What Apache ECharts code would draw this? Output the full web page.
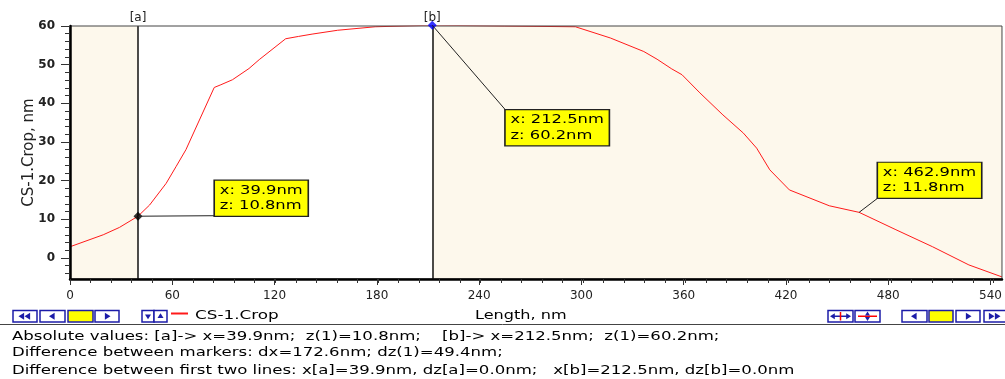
<!DOCTYPE html>
<html><head><meta charset="utf-8">
<script src="https://cdn.jsdelivr.net/npm/echarts@6/dist/echarts.min.js"></script>
<style>html,body{margin:0;padding:0;background:#fff}#c{width:1005px;height:379px}</style>
</head><body><div id="c"></div>
<script>
// ---- data ----
const lengthNm = [0, 19.5, 29, 39.9, 46.7, 56.4, 62.3, 68, 84.6, 88.5, 95.3, 105, 111, 126.5, 134, 142, 157, 179, 212.5, 255, 296.5, 317, 336.6, 344.4, 353, 359, 369.5, 383, 395, 402.8, 410.5, 422, 445.4, 462.9, 484.5, 506, 527.3, 546.7];
const heightNm = [2.9, 6.0, 7.9, 10.8, 13.7, 19.3, 23.7, 28.0, 44.1, 44.8, 46.1, 49.0, 51.3, 56.7, 57.3, 57.9, 58.9, 59.8, 60.2, 60.0, 59.8, 56.9, 53.4, 51.4, 48.9, 47.4, 42.7, 37.0, 32.3, 28.4, 22.8, 17.6, 13.5, 11.8, 7.3, 2.9, -1.8, -4.9];
const xTickValues = [0, 60, 120, 180, 240, 300, 360, 420, 480, 540];
const yTickValues = [0, 10, 20, 30, 40, 50, 60];
const xMinorStep = 12;
const yMinorStep = 2;
const xRange = [0, 546.7];
const yRange = [-5.44, 60];
const markerNames = ['[a]', '[b]'];
const markerX = [39.9, 212.5];
const markerZ = [10.8, 60.2];
const annotX = [39.9, 212.5, 462.9];
const annotZ = [10.8, 60.2, 11.8];
const seriesName = 'CS-1.Crop';
const xAxisName = 'Length, nm';
const yAxisName = 'CS-1.Crop, nm';
const infoLines = [
  'Absolute values: [a]-> x=39.9nm;  z(1)=10.8nm;    [b]-> x=212.5nm;  z(1)=60.2nm;',
  'Difference between markers: dx=172.6nm; dz(1)=49.4nm;',
  'Difference between first two lines: x[a]=39.9nm, dz[a]=0.0nm;   x[b]=212.5nm, dz[b]=0.0nm'
];

// ---- styles ----
const FONT = 'DejaVu Sans';
const SX = 1.38;
const markerColors = ['#000000', '#0000ff'];
const annotOffsets = [[77, -35.5, 'bl'], [73.5, 85, 'tl'], [19, -49.5, 'bl']];

const xMinor = []; for (let v = 0; v <= xRange[1]; v += xMinorStep) xMinor.push(v);
const yMinor = []; for (let v = -4; v <= yRange[1]; v += yMinorStep) yMinor.push(v);

const chart = echarts.init(document.getElementById('c'), null, {renderer: 'canvas'});
const gridPos = {left: 70, right: -2, top: 26, bottom: 100};

const option = {
  animation: false,
  grid: [
    Object.assign({show: true, z: 10, borderColor: '#444', borderWidth: 1, backgroundColor: 'transparent'}, gridPos),
    Object.assign({show: false}, gridPos)
  ],
  xAxis: [
    {type: 'value', gridIndex: 0, z: 12, min: xRange[0], max: xRange[1], position: 'bottom',
     axisLine: {show: true, onZero: false, lineStyle: {color: '#000', width: 2.5}},
     axisTick: {show: true, customValues: xTickValues, length: 6, lineStyle: {color: '#333'}},
     axisLabel: {customValues: xTickValues, fontFamily: FONT, fontSize: 12, color: '#222', margin: 11},
     splitLine: {show: false}},
    {type: 'value', gridIndex: 1, z: 12, min: xRange[0], max: xRange[1], position: 'bottom',
     axisLine: {show: false, onZero: false},
     axisTick: {show: true, customValues: xMinor, length: 4, lineStyle: {color: '#333'}},
     axisLabel: {show: false}, splitLine: {show: false}}
  ],
  yAxis: [
    {type: 'value', gridIndex: 0, z: 12, min: yRange[0], max: yRange[1], position: 'left',
     axisLine: {show: true, onZero: false, lineStyle: {color: '#000', width: 2.5}},
     axisTick: {show: true, customValues: yTickValues, length: 9, lineStyle: {color: '#333'}},
     axisLabel: {customValues: yTickValues, fontFamily: FONT, fontSize: 12, fontWeight: 'bold', color: '#222', margin: 15},
     splitLine: {show: false},
     name: yAxisName, nameLocation: 'middle', nameGap: 33, nameRotate: 90, nameMoveOverlap: false,
     nameTextStyle: {fontFamily: FONT, fontSize: 15, color: '#222'}},
    {type: 'value', gridIndex: 1, z: 12, min: yRange[0], max: yRange[1], position: 'left',
     axisLine: {show: false, onZero: false},
     axisTick: {show: true, customValues: yMinor, length: 5, lineStyle: {color: '#333'}},
     axisLabel: {show: false}, splitLine: {show: false}}
  ],
  series: [
    {type: 'line', xAxisIndex: 0, yAxisIndex: 0, data: [], z: 1, silent: true,
     markArea: {silent: true, itemStyle: {color: '#fdf8ec'},
       data: [[{xAxis: xRange[0]}, {xAxis: markerX[0]}], [{xAxis: markerX[1]}, {xAxis: xRange[1]}]]}},
    {type: 'line', xAxisIndex: 0, yAxisIndex: 0, data: [], z: 4, silent: true,
     markLine: {silent: true, symbol: 'none', animation: false,
       lineStyle: {color: '#111', width: 1.5, type: 'solid'},
       label: {show: true, position: 'end', formatter: '{b}', fontFamily: FONT, fontSize: 12, color: '#222', distance: 2},
       data: markerX.map((x, i) => ({xAxis: x, name: markerNames[i]}))}},
    {type: 'line', name: seriesName, xAxisIndex: 0, yAxisIndex: 0, z: 3,
     data: lengthNm.map((x, i) => [x, heightNm[i]]),
     symbol: 'none', lineStyle: {color: '#ff1a1a', width: 1}, silent: true},
    {type: 'scatter', xAxisIndex: 0, yAxisIndex: 0, z: 14, clip: false, silent: true,
     symbol: 'diamond', symbolSize: 9,
     data: markerX.map((x, i) => ({value: [x, markerZ[i]], itemStyle: {color: markerColors[i]}}))}
  ]
};
chart.setOption(option);

// ---- graphics: annotations, info text, toolbar ----
const g = [];
function stext(x, y, text, opts) {
  opts = opts || {};
  g.push({type: 'text', x: x, y: y, scaleX: opts.sx || SX, z: 20,
    style: Object.assign({text: text, fontFamily: FONT, fontSize: 12, fill: '#000',
      textAlign: 'left', textVerticalAlign: 'middle'}, opts.style || {})});
}
// annotations
const boxH = 35;
annotX.forEach((x, i) => {
  const p = chart.convertToPixel({gridIndex: 0}, [x, annotZ[i]]);
  const off = annotOffsets[i];
  const bx = p[0] + off[0], by = p[1] + off[1];
  const ax = bx, ay = off[2] === 'bl' ? by + boxH : by;
  g.push({type: 'line', z: 15, shape: {x1: p[0], y1: p[1], x2: ax, y2: ay}, style: {stroke: '#222', lineWidth: 1}});
  g.push({type: 'text', x: bx, y: by, scaleX: 1.36, z: 20,
    style: {text: 'x: ' + x.toFixed(1) + 'nm\nz: ' + annotZ[i].toFixed(1) + 'nm',
      fontFamily: FONT, fontSize: 12, fill: '#000', lineHeight: 15.5,
      backgroundColor: '#ffff00', borderColor: '#222', borderWidth: 1.2, padding: [2, 3.5, 2, 3.5],
      textAlign: 'left', textVerticalAlign: 'top'}});
});
// info lines
const infoY = [336.7, 353.3, 370.5];
infoLines.forEach((t, i) => stext(12, infoY[i], t));
// separator
g.push({type: 'line', shape: {x1: 0, y1: 324.5, x2: 1005, y2: 324.5}, style: {stroke: '#444', lineWidth: 1}});
// legend & axis name
g.push({type: 'line', shape: {x1: 171, y1: 313.5, x2: 188, y2: 313.5}, style: {stroke: '#ff1a1a', lineWidth: 2}});
stext(195, 316, seriesName, {sx: 1.4});
stext(475, 315.5, xAxisName, {sx: 1.34});

// toolbar buttons
const NAVY = '#1c1ca8';
const BY = 310.5, BH = 11.5;
function btn(x0, x1, fill) {
  g.push({type: 'rect', shape: {x: x0, y: BY, width: x1 - x0, height: BH},
    style: {fill: fill || '#fff', stroke: NAVY, lineWidth: 1.5}});
}
function tri(cx, cy, dir, s, color) {
  let pts;
  if (dir === 'l') pts = [[cx - s, cy], [cx + s * 0.6, cy - s], [cx + s * 0.6, cy + s]];
  if (dir === 'r') pts = [[cx + s, cy], [cx - s * 0.6, cy - s], [cx - s * 0.6, cy + s]];
  if (dir === 'u') pts = [[cx, cy - s], [cx - s, cy + s * 0.6], [cx + s, cy + s * 0.6]];
  if (dir === 'd') pts = [[cx, cy + s], [cx - s, cy - s * 0.6], [cx + s, cy - s * 0.6]];
  g.push({type: 'polygon', shape: {points: pts}, style: {fill: color || NAVY}});
}
const cy = BY + BH / 2;
btn(13, 37); tri(22, cy, 'l', 3.5); tri(28, cy, 'l', 3.5);
btn(40, 65); tri(52.5, cy, 'l', 3.5);
btn(68, 93, '#ffff00');
btn(95, 119); tri(107, cy, 'r', 3.5);
btn(142, 154); tri(148, cy, 'd', 3);
btn(154, 167); tri(160.5, cy, 'u', 3);
btn(828, 853);
g.push({type: 'line', shape: {x1: 832, y1: cy, x2: 849, y2: cy}, style: {stroke: NAVY, lineWidth: 1.5}});
tri(833, cy, 'l', 3); tri(848, cy, 'r', 3);
g.push({type: 'line', shape: {x1: 840.5, y1: BY + 1.5, x2: 840.5, y2: BY + BH - 1.5}, style: {stroke: '#ff0000', lineWidth: 1.5}});
btn(855, 880);
g.push({type: 'line', shape: {x1: 858, y1: cy, x2: 877, y2: cy}, style: {stroke: '#ff0000', lineWidth: 1.5}});
tri(867.5, BY + 3.5, 'u', 2.5); tri(867.5, BY + BH - 3.5, 'd', 2.5);
btn(902, 927); tri(914.5, cy, 'l', 3.5);
btn(929, 953, '#ffff00');
btn(956, 980); tri(968, cy, 'r', 3.5);
btn(984, 1010); tri(991, cy, 'r', 3.5); tri(997, cy, 'r', 3.5);

chart.setOption({graphic: g});
</script>
</body></html>
